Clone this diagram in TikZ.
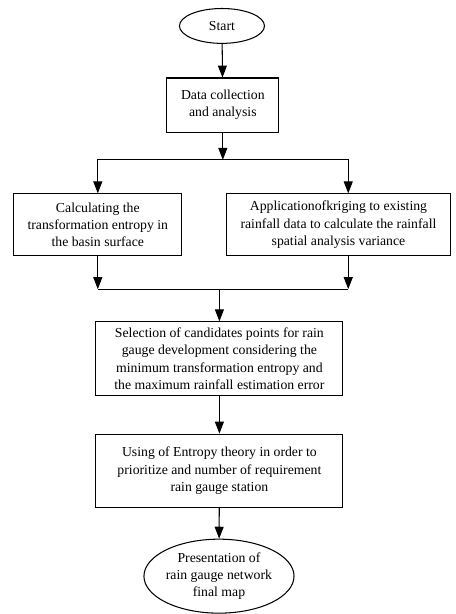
\documentclass[tikz,border=0pt]{standalone}
\usepackage{fontspec}
\setmainfont{Liberation Serif}
\usetikzlibrary{arrows.meta, shapes.geometric, positioning}
\tikzset{
	stepbox/.style={draw, line width=0.7pt, align=center, inner sep=2pt, font=\fontsize{9.2}{11.6}\selectfont}
}
\tikzset{
	endbox/.style={draw, line width=0.7pt, ellipse, align=center, inner sep=0pt, font=\fontsize{9.2}{11.6}\selectfont}
}
\tikzset{
	flow/.style={line width=0.7pt, -{Triangle[length=2.8mm,width=2.1mm]}}
}

\begin{document}
\begin{tikzpicture}
      \useasboundingbox (0,0) rectangle (10.72,-14.44);
      \node[endbox, minimum width=2.0cm, minimum height=0.82cm] (start) at (5.22,-0.61) {Start};
      \node[stepbox, minimum width=2.63cm, minimum height=1.27cm] (data) at (5.24,-2.47) {Data collection\\and analysis};
      \node[stepbox, minimum width=3.95cm, minimum height=1.46cm] (entropy) at (2.30,-5.29)
        {Calculating the\\transformation entropy in\\the basin surface};
      \node[stepbox, minimum width=5.25cm, minimum height=1.46cm] (kriging) at (7.96,-5.29)
        {Applicationofkriging to existing\\rainfall data to calculate the rainfall\\spatial analysis variance};
      \node[stepbox, minimum width=5.81cm, minimum height=1.74cm] (select) at (5.16,-8.44)
        {Selection of candidates points for rain\\gauge development considering the\\minimum transformation entropy and\\the maximum rainfall estimation error};
      \node[stepbox, minimum width=5.81cm, minimum height=1.72cm] (prior) at (5.16,-11.07)
        {Using of Entropy theory in order to\\prioritize and number of requirement\\rain gauge station};
      \node[endbox, minimum width=2.92cm, minimum height=1.74cm] (final) at (5.15,-13.55)
        {Presentation of\\rain gauge network\\final map};

      % branch and join points
      \coordinate (split) at (5.24,-3.76);
      \coordinate (join) at (5.16,-6.80);
      \coordinate (krin) at ([xshift=0.23cm]kriging.north);
      \coordinate (krout) at ([xshift=0.23cm]kriging.south);

      \draw[flow] (start) -- (data);
      \draw[flow] (data) -- (split);
      \draw[flow] (split) -| (entropy.north);
      \draw[flow] (split) -| (krin);
      \draw[flow] (entropy.south) -- (entropy.south |- join);
      \draw[flow] (krout) -- (krout |- join);
      \draw[line width=0.7pt] (entropy.south |- join) -- (krout |- join);
      \draw[flow] (join) -- (select);
      \draw[flow] (select) -- (prior);
      \draw[flow] (prior) -- (final);
    \end{tikzpicture}
\end{document}
